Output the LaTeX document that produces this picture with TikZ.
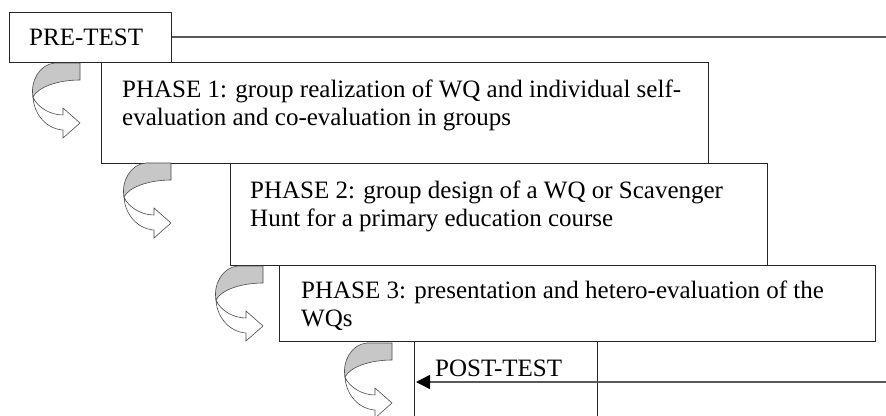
\documentclass[tikz,border=0pt]{standalone}
\usepackage{fontspec}
\setmainfont{Liberation Serif}
\usetikzlibrary{arrows.meta}
\tikzset{
  boxline/.style={draw=black!85, line width=1.1pt},
  txt/.style={anchor=base west, inner sep=0pt, align=left, font=\fontsize{25}{28}\selectfont},
  longline/.style={draw=black!65, line width=1.5pt},
  backface/.style={fill=black!22, draw=black!70, line width=0.6pt},
  frontface/.style={fill=white, draw=black!70, line width=0.6pt}
}
\newcommand\myturnarrow[2]{%
  \begin{scope}[shift={(#1,#2)}]
    \path[backface] (-25,0) -- (0,0) -- (0,17) .. controls (-22,17) and (-42,24) .. (-47,34) .. controls (-50,18) and (-40,1) .. (-25,0) -- cycle;
    \path[frontface] (-47,34) .. controls (-46,52) and (-33,66) .. (-17,67) -- (-17,75) -- (0,60) -- (-17,45) -- (-17,52) .. controls (-30,52) and (-43,44) .. (-47,34) -- cycle;
  \end{scope}}
\begin{document}
\begin{tikzpicture}[x=1pt,y=-1pt]
\clip (0,0) rectangle (886,415);
\fill[white] (0,0) rectangle (886,415);
% boxes
\node[boxline, anchor=north west, minimum width=162pt, minimum height=50pt, inner sep=0pt] (pre) at (9,12) {};
\node[boxline, anchor=north west, minimum width=607pt, minimum height=101pt, inner sep=0pt] (p1) at (101,62) {};
\node[boxline, anchor=north west, minimum width=537pt, minimum height=102pt, inner sep=0pt] (p2) at (230,163) {};
\node[boxline, anchor=north west, minimum width=596pt, minimum height=76pt, inner sep=0pt] (p3) at (279,265) {};
\node[boxline, anchor=north west, minimum width=183pt, minimum height=100pt, inner sep=0pt] (post) at (414,341) {};
% texts (base = baseline of the last line)
\node[txt] (tpre) at (29,45) {PRE-TEST};
\node[txt] (t1) at (122,125) {PHASE 1: group realization of WQ and individual self-\\evaluation and co-evaluation in groups};
\node[txt] (t2) at (250,226) {PHASE 2: group design of a WQ or Scavenger\\Hunt for a primary education course};
\node[txt] (t3) at (301,326) {PHASE 3: presentation and hetero-evaluation of the\\WQs};
\node[txt] (tpost) at (435,376) {POST-TEST};
% lines
\coordinate (e1) at (886,37);
\coordinate (e2) at (886,382);
\draw[longline] (pre.east |- e1) -- (e1);
\draw[longline, -{Triangle[length=14pt,width=14pt,fill=black,color=black]}] (e2) -- ([xshift=2pt]post.west |- e2);
% curved arrows
\myturnarrow{80}{63}
\myturnarrow{171}{163}
\myturnarrow{263}{266}
\myturnarrow{392}{343}
\end{tikzpicture}
\end{document}
